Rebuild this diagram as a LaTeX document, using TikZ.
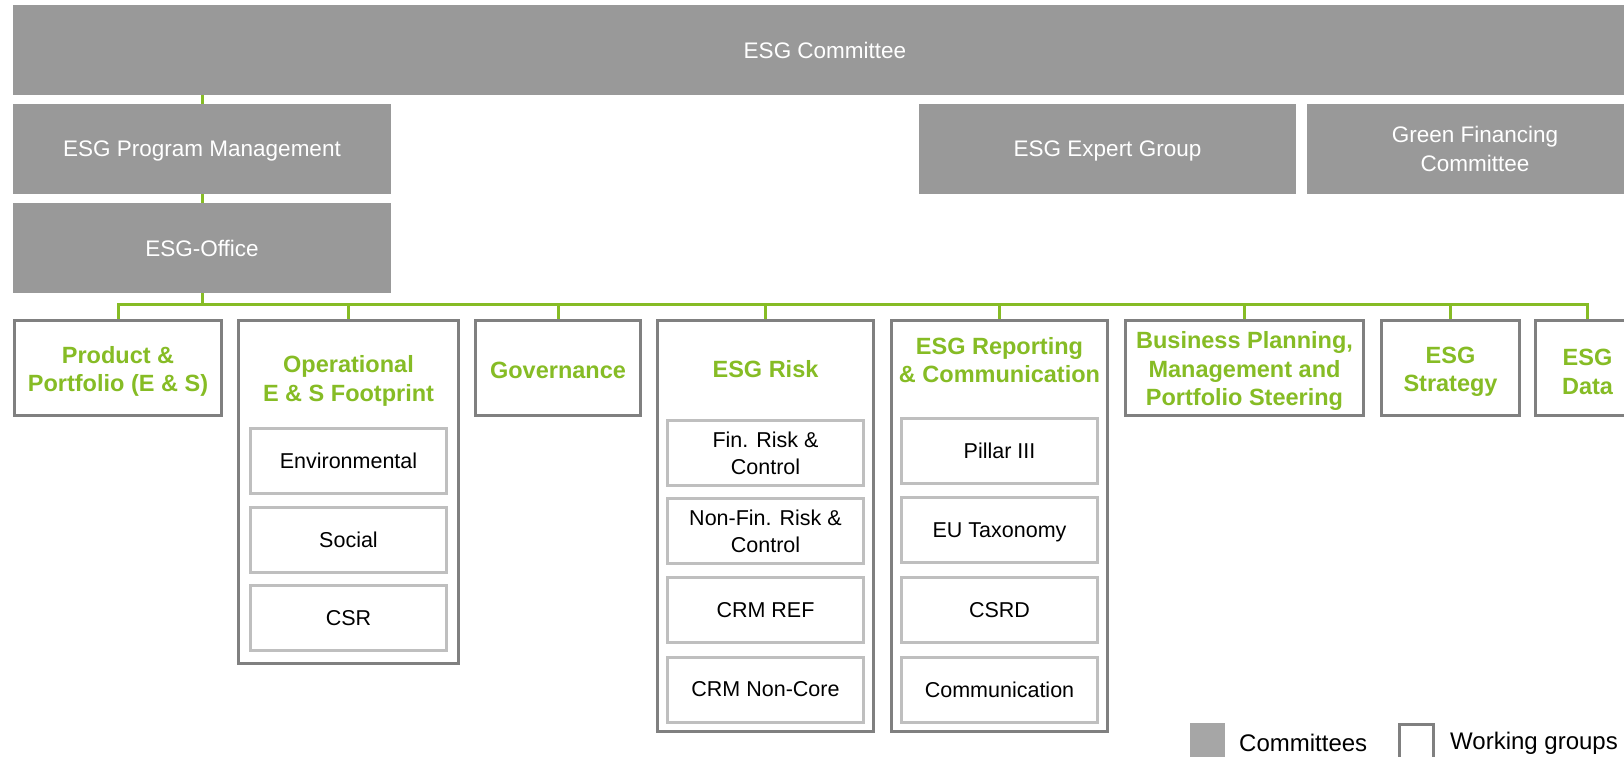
\documentclass[tikz,border=0pt]{standalone}
\usepackage{fontspec}
\setmainfont{Liberation Sans}
\usepackage{tikz}

\definecolor{boxgray}{HTML}{999999}
\definecolor{leggray}{HTML}{A6A6A6}
\definecolor{framegray}{HTML}{808080}
\definecolor{subgray}{HTML}{BFBFBF}
\definecolor{esggreen}{HTML}{86BC25}

\begin{document}
\begin{tikzpicture}[x=1pt, y=-1pt,
                    committee/.style={fill=boxgray, text=white, inner sep=0, align=center,
                                      font=\fontsize{22.5}{29}\selectfont},
                    group/.style={draw=framegray, line width=3pt, fill=white, inner sep=0},
                    title/.style={text=esggreen, align=center, inner sep=0,
                                  font=\bfseries\fontsize{23.5}{28.5}\selectfont},
                    sub/.style={draw=subgray, line width=3pt, inner sep=0, align=center,
                                minimum width=196, minimum height=65,
                                font=\fontsize{21.5}{27}\selectfont},
                    link/.style={draw=esggreen, line width=3pt},
                    legend/.style={inner sep=0, anchor=west, font=\fontsize{24}{29}\selectfont}]
                \clip (0,0) rectangle (1624,757);

                \node[committee, minimum width=1624, minimum height=90] (committee) at (825,50) {ESG Committee};
                \node[committee, text depth=0pt, minimum width=378, minimum height=90] (progmgmt) at (202,149) {ESG Program Management};
                \node[committee, minimum width=378, minimum height=90] (office) at (202,248) {ESG-Office};
                \node[committee, text depth=0pt, minimum width=377, minimum height=90] (expert) at (1107.5,149) {ESG Expert Group};
                \node[committee, minimum width=336, minimum height=90] (greenfin) at (1475,149) {Green Financing\\Committee};

                \node[group, minimum width=207, minimum height=95] (prod) at (118,368) {};
                \node[title] (prodT) at (118,371.5) {Product \&\\Portfolio (E \& S)};
                \node[group, minimum width=220, minimum height=343] (oper) at (348.5,492) {};
                \node[title] (operT) at (348.5,381) {Operational\\E \& S Footprint};
                \node[group, minimum width=165, minimum height=95] (gov) at (558,368) {};
                \node[title] (govT) at (558,370) {Governance};
                \node[group, minimum width=216, minimum height=411] (risk) at (765.5,526) {};
                \node[title] (riskT) at (765.5,369) {ESG Risk};
                \node[group, minimum width=216, minimum height=411] (report) at (999.5,526) {};
                \node[title] (reportT) at (999.5,360) {ESG Reporting\\\& Communication};
                \node[group, minimum width=238, minimum height=95] (busi) at (1244.5,368) {};
                \node[title] (busiT) at (1244.5,371) {Business Planning,\\Management and\\Portfolio Steering};
                \node[group, minimum width=138, minimum height=95] (strat) at (1450.5,368) {};
                \node[title] (stratT) at (1450.5,372) {ESG\\Strategy};
                \node[group, minimum width=105, minimum height=95] (data) at (1587.5,368) {};
                \node[title] (dataT) at (1587.5,372) {ESG\\Data};

                \node[sub] (env) at (348.5,461) {Environmental};
                \node[sub] (social) at (348.5,539.5) {Social};
                \node[sub] (csr) at (348.5,618) {CSR};

                \node[sub] (finrisk) at (765.5,453) {Fin. Risk \&\\Control};
                \node[sub] (nonfin) at (765.5,531) {Non-Fin. Risk \&\\Control};
                \node[sub] (crmref) at (765.5,610) {CRM REF};
                \node[sub] (crmnc) at (765.5,689.5) {CRM Non-Core};

                \node[sub] (pillar) at (999.5,451) {Pillar III};
                \node[sub, text depth=0pt] (taxonomy) at (999.5,530) {EU Taxonomy};
                \node[sub] (csrd) at (999.5,610) {CSRD};
                \node[sub] (comm) at (999.5,689.5) {Communication};

                \coordinate (bus) at (202,304);
                \draw[link] (committee.south -| progmgmt.north) -- (progmgmt.north);
                \draw[link] (progmgmt.south) -- (office.north);
                \draw[link] (office.south) -- (bus);
                \draw[link] (prod.north) -- (prod.north |- bus) -- (data.north |- bus) -- (data.north);
                \foreach \n in {oper,gov,risk,report,busi,strat}
                    \draw[link] (\n.north |- bus) -- (\n.north);

                \node[fill=leggray, inner sep=0, minimum width=35, minimum height=46] (legcom) at (1207.5,746) {};
                \node[legend] (legcomT) at (1239,743) {Committees};
                \node[draw=framegray, line width=3pt, inner sep=0, minimum width=34, minimum height=46] (legwg) at (1416.5,747) {};
                \node[legend] (legwgT) at (1450,743) {Working groups};
            \end{tikzpicture}
\end{document}
